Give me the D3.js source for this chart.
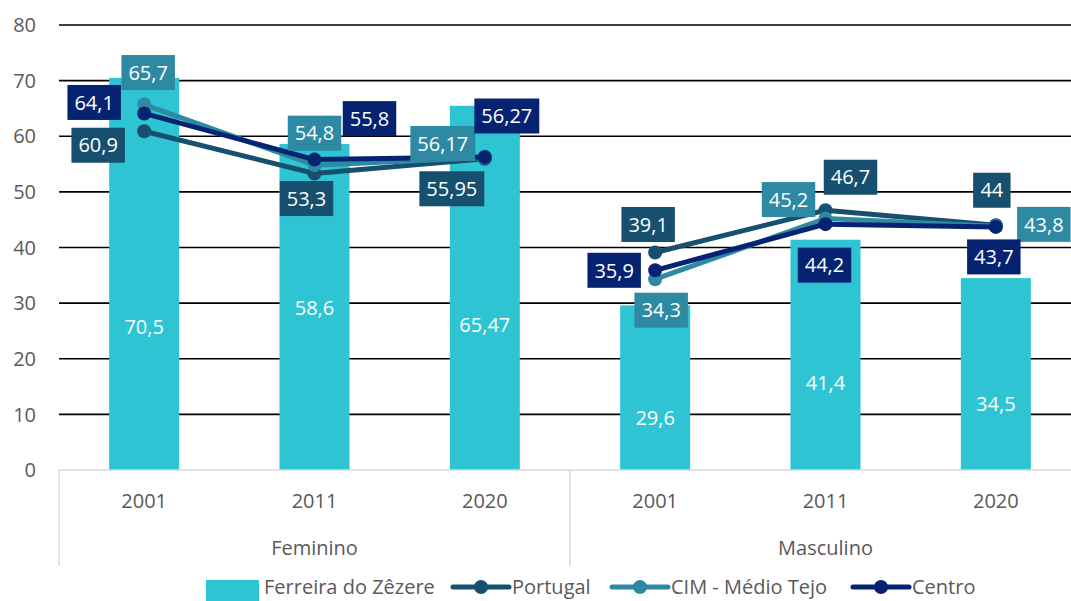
<!DOCTYPE html>
<html>
<head>
<meta charset="utf-8">
<script src="https://cdn.jsdelivr.net/npm/d3@7"></script>
<style>
  body { margin: 0; background: #fff; }
  svg { display: block; font-family: "Open Sans", "Noto Sans", sans-serif; }
</style>
</head>
<body>
<div id="chart"></div>
<script>
// Chart data
var groups = ["Feminino", "Masculino"];
var years = ["2001", "2011", "2020"];
var yTicks = [0, 10, 20, 30, 40, 50, 60, 70, 80];

var ferreira = [70.5, 58.6, 65.47, 29.6, 41.4, 34.5];
var portugal = [60.9, 53.3, 55.95, 39.1, 46.7, 44];
var cimMedioTejo = [65.7, 54.8, 56.17, 34.3, 45.2, 43.8];
var centro = [64.1, 55.8, 56.27, 35.9, 44.2, 43.7];

var barLabels = ["70,5", "58,6", "65,47", "29,6", "41,4", "34,5"];
var portugalLabels = ["60,9", "53,3", "55,95", "39,1", "46,7", "44"];
var cimLabels = ["65,7", "54,8", "56,17", "34,3", "45,2", "43,8"];
var centroLabels = ["64,1", "55,8", "56,27", "35,9", "44,2", "43,7"];

// Layout (label placement, moved by hand in the original)
var barLabelAt = [25.7, 29.1, 26.1, 9.3, 15.6, 11.9];
var portugalOffsets = [[-46, 14], [-8, 25], [-33, 30], [-7, -28], [25, -33], [-4, -35]];
var cimOffsets = [[4, -32], [0, -32], [-42, -14], [6, 31], [-37, -19], [48, -2]];
var centroOffsets = [[-50, -11], [55, -41], [22, -41], [-41, 0], [-1, 41], [-2, 30]];

var fontSize = 20;
var svgWidth = 1071;
var svgHeight = 601;
var margin = { top: 25, left: 59, bottom: 131 };
var plotRight = 1081; // the last band runs past the edge of the picture

var svg = d3.select("#chart")
  .append("svg")
  .attr("width", svgWidth)
  .attr("height", svgHeight);

var keys = [];
groups.forEach(function(g) {
  years.forEach(function(y) { keys.push(g + "-" + y); });
});

var x = d3.scaleBand()
  .domain(keys)
  .range([margin.left, plotRight])
  .paddingInner(0.589)
  .paddingOuter(0.2945);

var y = d3.scaleLinear()
  .domain([0, 80])
  .range([svgHeight - margin.bottom, margin.top]);

var cx = function(i) { return x(keys[i]) + x.bandwidth() / 2; };

// Gridlines
svg.append("g")
  .selectAll("line")
  .data(yTicks.filter(d => d > 0))
  .enter()
  .append("line")
  .attr("x1", margin.left)
  .attr("x2", svgWidth)
  .attr("y1", d => y(d))
  .attr("y2", d => y(d))
  .attr("stroke", "#000")
  .attr("stroke-width", 1.6);

// Y axis labels
svg.append("g")
  .selectAll("text")
  .data(yTicks)
  .enter()
  .append("text")
  .attr("x", 36)
  .attr("y", d => y(d))
  .attr("dy", "0.36em")
  .attr("text-anchor", "end")
  .attr("font-size", fontSize)
  .attr("fill", "#595959")
  .text(d => d);

// Bars
svg.append("g")
  .selectAll("rect")
  .data(ferreira)
  .enter()
  .append("rect")
  .attr("x", (d, i) => x(keys[i]))
  .attr("y", d => y(d))
  .attr("width", x.bandwidth())
  .attr("height", d => y(0) - y(d))
  .attr("fill", "#2EC4D4");

svg.append("g")
  .selectAll("text")
  .data(ferreira)
  .enter()
  .append("text")
  .attr("x", (d, i) => cx(i))
  .attr("y", (d, i) => y(barLabelAt[i]))
  .attr("dy", "0.36em")
  .attr("text-anchor", "middle")
  .attr("font-size", fontSize)
  .attr("fill", "#fff")
  .text((d, i) => barLabels[i]);

// Category axis
var axisY = y(0);
svg.append("line")
  .attr("x1", margin.left).attr("x2", svgWidth)
  .attr("y1", axisY).attr("y2", axisY)
  .attr("stroke", "#d9d9d9").attr("stroke-width", 1.5);

svg.append("g")
  .selectAll("line")
  .data([margin.left, x(keys[3]) - x.step() * x.paddingInner() / 2])
  .enter()
  .append("line")
  .attr("x1", d => d).attr("x2", d => d)
  .attr("y1", axisY).attr("y2", 566)
  .attr("stroke", "#d9d9d9").attr("stroke-width", 1.5);

svg.append("g")
  .selectAll("text")
  .data(keys)
  .enter()
  .append("text")
  .attr("x", (d, i) => cx(i))
  .attr("y", 501)
  .attr("dy", "0.36em")
  .attr("text-anchor", "middle")
  .attr("font-size", fontSize)
  .attr("fill", "#595959")
  .text(d => d.split("-")[1]);

svg.append("g")
  .selectAll("text")
  .data(groups)
  .enter()
  .append("text")
  .attr("x", (d, i) => (cx(i * 3) + cx(i * 3 + 2)) / 2)
  .attr("y", 548)
  .attr("dy", "0.36em")
  .attr("text-anchor", "middle")
  .attr("font-size", fontSize)
  .attr("fill", "#595959")
  .text(d => d);

// Line series, one line per group
var series = [
  { name: "Portugal", values: portugal, labels: portugalLabels, offsets: portugalOffsets, color: "#17506F" },
  { name: "CIM - Médio Tejo", values: cimMedioTejo, labels: cimLabels, offsets: cimOffsets, color: "#2E8AA3" },
  { name: "Centro", values: centro, labels: centroLabels, offsets: centroOffsets, color: "#062372" }
];

var line = d3.line()
  .x(d => cx(d.i))
  .y(d => y(d.v));

series.forEach(function(s) {
  var g = svg.append("g");
  [0, 1].forEach(function(k) {
    var pts = s.values.slice(k * 3, k * 3 + 3).map((v, j) => ({ v: v, i: k * 3 + j }));
    g.append("path")
      .datum(pts)
      .attr("d", line)
      .attr("fill", "none")
      .attr("stroke", s.color)
      .attr("stroke-width", 5)
      .attr("stroke-linejoin", "round");
  });
  g.selectAll("circle")
    .data(s.values)
    .enter()
    .append("circle")
    .attr("cx", (d, i) => cx(i))
    .attr("cy", d => y(d))
    .attr("r", 7)
    .attr("fill", s.color);
});

// Data label boxes
series.forEach(function(s) {
  s.values.forEach(function(v, i) {
    var lx = cx(i) + s.offsets[i][0];
    var ly = y(v) + s.offsets[i][1];
    var g = svg.append("g");
    var rect = g.append("rect").attr("fill", s.color);
    var t = g.append("text")
      .attr("x", lx)
      .attr("y", ly)
      .attr("dy", "0.36em")
      .attr("text-anchor", "middle")
      .attr("font-size", fontSize)
      .attr("fill", "#fff")
      .text(s.labels[i]);
    var bb = t.node().getBBox();
    rect.attr("x", lx - bb.width / 2 - 7)
      .attr("y", ly - 17.5)
      .attr("width", bb.width + 14)
      .attr("height", 35);
  });
});

// Legend
var legend = svg.append("g");
var legY = 587;
legend.append("rect")
  .attr("x", 206).attr("y", 580)
  .attr("width", 53).attr("height", 21)
  .attr("fill", "#2EC4D4");
legend.append("text")
  .attr("x", 264).attr("y", legY).attr("dy", "0.36em")
  .attr("font-size", fontSize).attr("fill", "#595959")
  .text("Ferreira do Zêzere");

var legendLines = [
  { s: series[0], x: 453 },
  { s: series[1], x: 612 },
  { s: series[2], x: 853 }
];
legendLines.forEach(function(d) {
  legend.append("line")
    .attr("x1", d.x).attr("x2", d.x + 56)
    .attr("y1", legY).attr("y2", legY)
    .attr("stroke", d.s.color).attr("stroke-width", 5)
    .attr("stroke-linecap", "round");
  legend.append("circle")
    .attr("cx", d.x + 28).attr("cy", legY).attr("r", 7)
    .attr("fill", d.s.color);
  legend.append("text")
    .attr("x", d.x + 59).attr("y", legY).attr("dy", "0.36em")
    .attr("font-size", fontSize).attr("fill", "#595959")
    .text(d.s.name);
});
</script>
</body>
</html>
